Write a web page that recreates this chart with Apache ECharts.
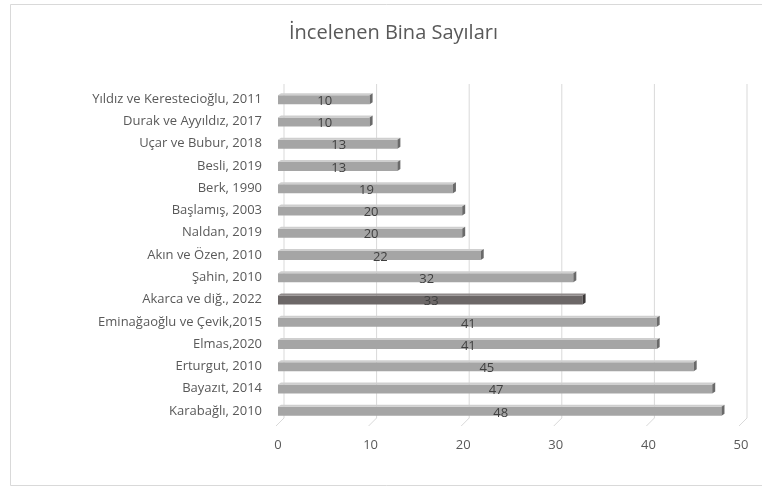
<!DOCTYPE html>
<html>
<head>
<meta charset="utf-8">
<script src="https://cdn.jsdelivr.net/npm/echarts@6/dist/echarts.min.js"></script>
<style>
  html, body { margin: 0; padding: 0; background: #fff; }
  #chart { width: 762px; height: 487px; }
</style>
</head>
<body>
<div id="chart"></div>
<script>
const categories = [
  'Yıldız ve Kerestecioğlu, 2011',
  'Durak ve Ayyıldız, 2017',
  'Uçar ve Bubur, 2018',
  'Besli, 2019',
  'Berk, 1990',
  'Başlamış, 2003',
  'Naldan, 2019',
  'Akın ve Özen, 2010',
  'Şahin, 2010',
  'Akarca ve diğ., 2022',
  'Eminağaoğlu ve Çevik,2015',
  'Elmas,2020',
  'Erturgut, 2010',
  'Bayazıt, 2014',
  'Karabağlı, 2010'
];
const values = [10, 10, 13, 13, 19, 20, 20, 22, 32, 33, 41, 41, 45, 47, 48];
const highlighted = 'Akarca ve diğ., 2022';
const xTicks = [0, 10, 20, 30, 40, 50];

const FONT = 'Open Sans';

const normalColors = { front: '#a5a5a5', top: '#cfcfcf', side: '#6a6a6a' };
const markColors = { front: '#6c6767', top: '#8f8a8a', side: '#3c3939' };

// 3D-ish bar: front face, a thin top face and a dark right side
function renderBar(params, api) {
  const v = api.value(0);
  const idx = api.value(1);
  const p0 = api.coord([0, idx]);
  const p1 = api.coord([v, idx]);
  const d = 3, dy = 2;
  const yt = p0[1] - 4, yb = p0[1] + 5;
  const x0 = p0[0], x1 = p1[0] + 2;
  const c = categories[idx] === highlighted ? markColors : normalColors;
  return {
    type: 'group',
    children: [
      { type: 'rect', shape: { x: x0, y: yt, width: x1 - d - x0, height: yb - yt },
        style: { fill: c.front } },
      { type: 'polygon', shape: { points: [[x0, yt], [x0 + d, yt - dy], [x1, yt - dy], [x1 - d, yt]] },
        style: { fill: c.top } },
      { type: 'polygon', shape: { points: [[x1 - d, yt], [x1, yt - dy], [x1, yb - dy], [x1 - d, yb]] },
        style: { fill: c.side } },
      { type: 'text', x: (x0 + x1 - d) / 2 + 1, y: p0[1] + 2,
        style: { text: String(v), fill: '#404040', font: '13px "' + FONT + '"',
                 align: 'center', verticalAlign: 'middle' } }
    ]
  };
}

// back-wall gridlines (shifted for the 3D look) with small floor ticks
function renderGrid(params, api) {
  const cs = params.coordSys;
  const x = api.coord([api.value(0), 0])[0];
  const top = cs.y - 4, bottom = cs.y + cs.height - 4;
  return {
    type: 'group',
    children: [
      { type: 'line', shape: { x1: x + 6, y1: top, x2: x + 6, y2: bottom },
        style: { stroke: '#d9d9d9', lineWidth: 1 } },
      { type: 'line', shape: { x1: x + 6, y1: bottom, x2: x - 2, y2: bottom + 8 },
        style: { stroke: '#d9d9d9', lineWidth: 1 } }
    ]
  };
}

const chart = echarts.init(document.getElementById('chart'));
chart.setOption({
  backgroundColor: '#fff',
  animation: false,
  title: {
    text: 'İncelenen Bina Sayıları',
    left: 284,
    top: 18,
    textStyle: { fontFamily: FONT, fontSize: 20, fontWeight: 'normal', color: '#595959' }
  },
  graphic: [{
    type: 'rect',
    shape: { x: 10.5, y: 4.5, width: 790, height: 481 },
    style: { fill: 'none', stroke: '#d9d9d9', lineWidth: 1 },
    silent: true
  }],
  grid: { left: 278, right: 21, top: 88, bottom: 65 },
  xAxis: {
    type: 'value',
    min: 0,
    max: 50,
    interval: 10,
    axisLine: { show: false },
    axisTick: { show: false },
    splitLine: { show: false },
    axisLabel: { color: '#595959', fontFamily: FONT, fontSize: 13, margin: 17 }
  },
  yAxis: {
    type: 'category',
    data: categories,
    inverse: true,
    axisLine: { show: false },
    axisTick: { show: false },
    axisLabel: { color: '#595959', fontFamily: FONT, fontSize: 13, margin: 16 }
  },
  series: [
    {
      type: 'custom',
      renderItem: renderGrid,
      data: xTicks.map(t => [t, 0]),
      encode: { x: 0, y: 1 },
      silent: true,
      z: 1
    },
    {
      type: 'custom',
      renderItem: renderBar,
      data: values.map((v, i) => [v, i]),
      encode: { x: 0, y: 1 },
      z: 2
    }
  ]
});
</script>
</body>
</html>
